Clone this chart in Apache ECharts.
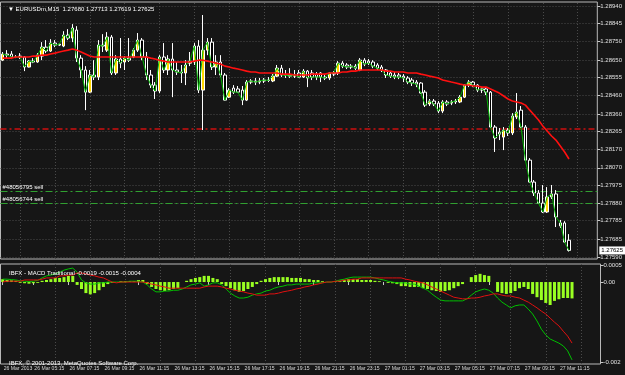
<!DOCTYPE html>
<html>
<head>
<meta charset="utf-8">
<script src="https://cdn.jsdelivr.net/npm/echarts@6/dist/echarts.min.js"></script>
<style>
  html, body { margin: 0; padding: 0; background: #161616; }
  #chart { width: 625px; height: 375px; }
</style>
</head>
<body>
<div id="chart"></div>
<script>
  // bar times, M15 (last 6 slots are the empty chart shift on the right)
  const categories = [
    '26 Mar 03:30','26 Mar 03:45','26 Mar 04:00','26 Mar 04:15','26 Mar 04:30','26 Mar 04:45','26 Mar 05:00','26 Mar 05:15','26 Mar 05:30','26 Mar 05:45',
    '26 Mar 06:00','26 Mar 06:15','26 Mar 06:30','26 Mar 06:45','26 Mar 07:00','26 Mar 07:15','26 Mar 07:30','26 Mar 07:45','26 Mar 08:00','26 Mar 08:15',
    '26 Mar 08:30','26 Mar 08:45','26 Mar 09:00','26 Mar 09:15','26 Mar 09:30','26 Mar 09:45','26 Mar 10:00','26 Mar 10:15','26 Mar 10:30','26 Mar 10:45',
    '26 Mar 11:00','26 Mar 11:15','26 Mar 11:30','26 Mar 11:45','26 Mar 12:00','26 Mar 12:15','26 Mar 12:30','26 Mar 12:45','26 Mar 13:00','26 Mar 13:15',
    '26 Mar 13:30','26 Mar 13:45','26 Mar 14:00','26 Mar 14:15','26 Mar 14:30','26 Mar 14:45','26 Mar 15:00','26 Mar 15:15','26 Mar 15:30','26 Mar 15:45',
    '26 Mar 16:00','26 Mar 16:15','26 Mar 16:30','26 Mar 16:45','26 Mar 17:00','26 Mar 17:15','26 Mar 17:30','26 Mar 17:45','26 Mar 18:00','26 Mar 18:15',
    '26 Mar 18:30','26 Mar 18:45','26 Mar 19:00','26 Mar 19:15','26 Mar 19:30','26 Mar 19:45','26 Mar 20:00','26 Mar 20:15','26 Mar 20:30','26 Mar 20:45',
    '26 Mar 21:00','26 Mar 21:15','26 Mar 21:30','26 Mar 21:45','26 Mar 22:00','26 Mar 22:15','26 Mar 22:30','26 Mar 22:45','26 Mar 23:00','26 Mar 23:15',
    '26 Mar 23:30','26 Mar 23:45','27 Mar 00:00','27 Mar 00:15','27 Mar 00:30','27 Mar 00:45','27 Mar 01:00','27 Mar 01:15','27 Mar 01:30','27 Mar 01:45',
    '27 Mar 02:00','27 Mar 02:15','27 Mar 02:30','27 Mar 02:45','27 Mar 03:00','27 Mar 03:15','27 Mar 03:30','27 Mar 03:45','27 Mar 04:00','27 Mar 04:15',
    '27 Mar 04:30','27 Mar 04:45','27 Mar 05:00','27 Mar 05:15','27 Mar 05:30','27 Mar 05:45','27 Mar 06:00','27 Mar 06:15','27 Mar 06:30','27 Mar 06:45',
    '27 Mar 07:00','27 Mar 07:15','27 Mar 07:30','27 Mar 07:45','27 Mar 08:00','27 Mar 08:15','27 Mar 08:30','27 Mar 08:45','27 Mar 09:00','27 Mar 09:15',
    '27 Mar 09:30','27 Mar 09:45','27 Mar 10:00','27 Mar 10:15','27 Mar 10:30','27 Mar 10:45','27 Mar 11:00','27 Mar 11:15','27 Mar 11:30','27 Mar 11:45',
    '27 Mar 12:00','27 Mar 12:15','27 Mar 12:30','27 Mar 12:45','27 Mar 13:00','27 Mar 13:15','27 Mar 13:30'
  ]
  const timeTickIdx = [0,7,15,23,31,39,47,55,63,71,79,87,95,103,111,119,127]
  const gridLineIdx = [4,12,20,28,36,44,52,60,68,76,84,92,100,108,116,124,132]

  // [open, close, low, high]
  const bars = [
    [1.28649,1.28682,1.28644,1.28693],[1.28682,1.28676,1.28660,1.28703],[1.28682,1.28666,1.28655,1.28698],[1.28666,1.28664,1.28660,1.28676],[1.28671,1.28666,1.28655,1.28687],
    [1.28666,1.28612,1.28590,1.28671],[1.28612,1.28644,1.28610,1.28649],[1.28644,1.28639,1.28633,1.28660],[1.28639,1.28676,1.28635,1.28687],[1.28671,1.28719,1.28649,1.28746],
    [1.28719,1.28698,1.28687,1.28757],[1.28698,1.28741,1.28693,1.28762],[1.28741,1.28730,1.28719,1.28757],[1.28730,1.28735,1.28725,1.28741],[1.28725,1.28784,1.28719,1.28805],
    [1.28784,1.28768,1.28757,1.28816],[1.28768,1.28822,1.28746,1.28843],[1.28811,1.28660,1.28639,1.28832],[1.28660,1.28596,1.28553,1.28676],[1.28596,1.28477,1.28380,1.28617],
    [1.28477,1.28569,1.28472,1.28596],[1.28569,1.28558,1.28542,1.28649],[1.28558,1.28730,1.28542,1.28757],[1.28730,1.28725,1.28693,1.28789],[1.28703,1.28773,1.28693,1.28800],
    [1.28773,1.28580,1.28569,1.28784],[1.28580,1.28655,1.28569,1.28676],[1.28655,1.28633,1.28606,1.28768],[1.28639,1.28660,1.28596,1.28671],[1.28660,1.28649,1.28639,1.28768],
    [1.28666,1.28703,1.28660,1.28714],[1.28703,1.28757,1.28693,1.28795],[1.28757,1.28666,1.28649,1.28768],[1.28666,1.28569,1.28542,1.28693],[1.28569,1.28515,1.28499,1.28596],
    [1.28515,1.28483,1.28440,1.28531],[1.28483,1.28666,1.28472,1.28676],[1.28666,1.28596,1.28580,1.28741],[1.28596,1.28655,1.28569,1.28676],[1.28655,1.28596,1.28450,1.28741],
    [1.28596,1.28585,1.28569,1.28639],[1.28585,1.28580,1.28526,1.28623],[1.28580,1.28623,1.28515,1.28649],[1.28633,1.28644,1.28617,1.28693],[1.28639,1.28725,1.28623,1.28741],
    [1.28725,1.28488,1.28472,1.28757],[1.28488,1.28703,1.28273,1.28892],[1.28703,1.28746,1.28676,1.28768],[1.28746,1.28612,1.28596,1.28768],[1.28612,1.28639,1.28569,1.28676],
    [1.28639,1.28569,1.28558,1.28676],[1.28569,1.28434,1.28432,1.28580],[1.28450,1.28488,1.28445,1.28499],[1.28499,1.28477,1.28467,1.28515],[1.28494,1.28477,1.28472,1.28510],
    [1.28488,1.28434,1.28407,1.28510],[1.28434,1.28531,1.28429,1.28542],[1.28531,1.28537,1.28520,1.28547],[1.28537,1.28531,1.28515,1.28553],[1.28531,1.28537,1.28520,1.28553],
    [1.28537,1.28542,1.28526,1.28553],[1.28542,1.28540,1.28531,1.28558],[1.28537,1.28563,1.28531,1.28574],[1.28563,1.28606,1.28558,1.28623],[1.28606,1.28569,1.28558,1.28623],
    [1.28569,1.28567,1.28553,1.28596],[1.28569,1.28563,1.28553,1.28606],[1.28563,1.28569,1.28553,1.28596],[1.28580,1.28558,1.28553,1.28596],[1.28558,1.28590,1.28553,1.28601],
    [1.28590,1.28553,1.28504,1.28596],[1.28580,1.28558,1.28542,1.28596],[1.28574,1.28558,1.28542,1.28585],[1.28580,1.28558,1.28531,1.28585],[1.28558,1.28553,1.28542,1.28569],
    [1.28553,1.28580,1.28542,1.28585],[1.28574,1.28580,1.28563,1.28590],[1.28580,1.28633,1.28569,1.28644],[1.28633,1.28617,1.28606,1.28644],[1.28623,1.28612,1.28601,1.28633],
    [1.28612,1.28617,1.28601,1.28628],[1.28617,1.28606,1.28596,1.28628],[1.28596,1.28649,1.28590,1.28660],[1.28649,1.28628,1.28617,1.28660],[1.28644,1.28633,1.28623,1.28655],
    [1.28639,1.28617,1.28606,1.28649],[1.28623,1.28606,1.28596,1.28633],[1.28612,1.28596,1.28585,1.28623],[1.28596,1.28569,1.28553,1.28601],[1.28580,1.28563,1.28553,1.28590],
    [1.28569,1.28558,1.28547,1.28585],[1.28569,1.28558,1.28547,1.28580],[1.28563,1.28553,1.28531,1.28574],[1.28553,1.28531,1.28520,1.28563],[1.28542,1.28526,1.28510,1.28553],
    [1.28531,1.28520,1.28504,1.28542],[1.28526,1.28472,1.28467,1.28531],[1.28477,1.28407,1.28397,1.28488],[1.28413,1.28429,1.28402,1.28440],[1.28429,1.28413,1.28402,1.28440],
    [1.28418,1.28375,1.28364,1.28429],[1.28375,1.28424,1.28364,1.28434],[1.28424,1.28413,1.28402,1.28434],[1.28418,1.28424,1.28407,1.28434],[1.28424,1.28429,1.28413,1.28440],
    [1.28424,1.28450,1.28418,1.28461],[1.28450,1.28515,1.28445,1.28520],[1.28515,1.28531,1.28504,1.28542],[1.28531,1.28515,1.28504,1.28537],[1.28515,1.28488,1.28477,1.28520],
    [1.28488,1.28494,1.28472,1.28504],[1.28494,1.28477,1.28461,1.28504],[1.28477,1.28289,1.28284,1.28483],[1.28289,1.28230,1.28155,1.28300],[1.28262,1.28251,1.28219,1.28284],
    [1.28235,1.28273,1.28165,1.28289],[1.28273,1.28257,1.28241,1.28284],[1.28257,1.28348,1.28246,1.28364],[1.28343,1.28370,1.28332,1.28472],[1.28380,1.28289,1.28284,1.28402],
    [1.28289,1.28111,1.28106,1.28300],[1.28111,1.27993,1.27988,1.28122],[1.27993,1.27934,1.27918,1.28004],[1.27934,1.27880,1.27875,1.27950],[1.27880,1.27832,1.27827,1.27977],
    [1.27832,1.27913,1.27827,1.27966],[1.27913,1.27929,1.27902,1.27977],[1.27929,1.27805,1.27751,1.27950],[1.27757,1.27773,1.27746,1.27789],[1.27773,1.27670,1.27665,1.27783],
    [1.27680,1.27625,1.27619,1.27713]
  ]

  // red moving average
  const slowMa = [
    1.28660,1.28660,1.28660,1.28666,1.28666,1.28666,1.28666,1.28671,1.28671,1.28676,
    1.28676,1.28682,1.28687,1.28693,1.28698,1.28703,1.28709,1.28703,1.28693,1.28682,
    1.28671,1.28666,1.28666,1.28666,1.28666,1.28666,1.28666,1.28666,1.28666,1.28666,
    1.28666,1.28666,1.28666,1.28666,1.28660,1.28655,1.28649,1.28644,1.28639,1.28639,
    1.28639,1.28639,1.28639,1.28639,1.28644,1.28649,1.28649,1.28644,1.28639,1.28633,
    1.28628,1.28617,1.28612,1.28606,1.28601,1.28596,1.28590,1.28585,1.28585,1.28580,
    1.28580,1.28580,1.28580,1.28580,1.28574,1.28574,1.28574,1.28569,1.28569,1.28569,
    1.28569,1.28574,1.28574,1.28574,1.28574,1.28580,1.28580,1.28580,1.28585,1.28585,
    1.28590,1.28590,1.28596,1.28596,1.28596,1.28596,1.28596,1.28596,1.28590,1.28590,
    1.28585,1.28585,1.28585,1.28580,1.28580,1.28580,1.28574,1.28569,1.28563,1.28558,
    1.28553,1.28542,1.28537,1.28531,1.28526,1.28520,1.28515,1.28515,1.28510,1.28510,
    1.28504,1.28504,1.28494,1.28483,1.28472,1.28456,1.28440,1.28429,1.28424,1.28418,
    1.28407,1.28380,1.28354,1.28327,1.28294,1.28268,1.28241,1.28219,1.28187,1.28155,1.28117
  ]

  // MACD panel
  const macdMain = [
    0.00007,0.00007,0.00006,0.00005,0.00003,0.00002,0.00001,0.00002,0.00004,0.0001,
    0.00015,0.00017,0.0002,0.00024,0.00029,0.00032,0.00034,0.00024,0.00005,-0.00002,
    -0.00005,-0.00005,-0.00002,-0.00002,0,0,0,0,0,0.00002,
    0.00002,0.00002,0,-0.00007,-0.00017,-0.00024,-0.00024,-0.00022,-0.00022,-0.0002,
    -0.0002,-0.00017,-0.00012,-0.00007,-0.00005,-0.00002,-0.0001,-0.00007,-0.00002,-0.00002,
    -0.00007,-0.00017,-0.00027,-0.00034,-0.00039,-0.00039,-0.00037,-0.00032,-0.00029,-0.00027,
    -0.00022,-0.0002,-0.00015,-0.00012,-0.0001,-0.00007,-0.00007,-0.00005,-0.00005,-0.00005,
    -0.00005,-0.00002,-0.00002,-0.00002,0,0,0.00002,0.00005,0.00007,0.0001,
    0.00012,0.00012,0.00012,0.00012,0.00012,0.0001,0.00007,0.00005,0.00002,0,
    -0.00002,-0.00002,-0.00002,-0.00005,-0.00005,-0.0001,-0.00015,-0.0002,-0.00029,-0.00037,
    -0.00044,-0.00046,-0.00046,-0.00046,-0.00046,-0.00046,-0.00041,-0.00032,-0.00024,-0.0002,
    -0.00017,-0.0002,-0.00027,-0.00039,-0.00049,-0.00056,-0.00063,-0.00058,-0.00056,-0.00056,
    -0.00066,-0.00078,-0.00095,-0.00115,-0.00129,-0.00139,-0.00144,-0.00149,-0.00156,-0.00168,-0.0019
  ]
  const macdSignal = [
    0,0.00002,0.00002,0.00002,0.00002,0.00005,0.00005,0.00005,0.00005,0.00007,
    0.0001,0.0001,0.0001,0.00015,0.00015,0.00017,0.00017,0.00022,0.00022,0.0002,
    0.00017,0.00015,0.00012,0.0001,0.00005,0,-0.00002,0,0,0,
    0,0,0,-0.00002,-0.00005,-0.00007,-0.0001,-0.00012,-0.00015,-0.00015,
    -0.00015,-0.00015,-0.00015,-0.00015,-0.00015,-0.00015,-0.00012,-0.0001,-0.0001,-0.0001,
    -0.00012,-0.00015,-0.00017,-0.0002,-0.00022,-0.00024,-0.00027,-0.00029,-0.00032,-0.00032,
    -0.00032,-0.00029,-0.00029,-0.00027,-0.00024,-0.00022,-0.0002,-0.00017,-0.00015,-0.00012,
    -0.0001,-0.00007,-0.00005,-0.00002,0,0,0.00002,0.00002,0.00005,0.00005,
    0.00007,0.00007,0.0001,0.0001,0.0001,0.0001,0.0001,0.0001,0.0001,0.0001,
    0.0001,0.0001,0.00007,0.00005,0.00002,0,-0.00002,-0.00007,-0.00012,-0.00017,
    -0.00022,-0.00027,-0.00032,-0.00037,-0.00039,-0.00041,-0.00041,-0.00039,-0.00039,-0.00037,
    -0.00034,-0.00032,-0.00029,-0.00029,-0.00032,-0.00034,-0.00034,-0.00037,-0.00039,-0.00044,
    -0.00049,-0.00056,-0.00063,-0.00071,-0.00078,-0.00088,-0.00098,-0.00107,-0.0012,-0.00132,-0.00149
  ]
  const macdHist = [
    0.00007,0.00005,0.00004,0.00003,-0.00002,-0.00003,-0.00004,-0.00003,-0.00002,0.00003,
    0.00005,0.00007,0.0001,0.0001,0.00012,0.00015,0.00015,-0.00007,-0.00017,-0.00027,
    -0.0003,-0.00027,-0.0002,-0.00012,-0.00005,-0.00002,0,0.00002,0.00002,0.00002,
    0.00002,0.00005,0.00005,-0.00005,-0.00012,-0.00017,-0.0002,-0.00022,-0.0002,-0.00017,
    -0.00015,0,0.00003,0.00007,0.0001,0.00012,0.00015,0.00015,0.0001,0.00007,
    -0.00005,-0.0001,-0.00015,-0.0002,-0.00024,-0.00022,-0.00017,-0.00012,-0.00005,0.00003,
    0.00007,0.0001,0.00012,0.00012,0.00012,0.00012,0.0001,0.0001,0.0001,0.00007,
    0.00007,0.00005,0.00005,0.00002,0,0,0.00002,0.00003,0.00005,0.00007,
    0.00007,0.00007,0.00005,0.00005,0.00005,0.00003,0.00002,0,-0.00002,-0.00003,
    -0.00005,-0.0001,-0.0001,-0.00012,-0.00012,-0.00012,-0.00015,-0.00017,-0.0002,-0.00022,
    -0.00024,-0.00022,-0.0002,-0.00015,-0.0001,-0.00005,0,0.00012,0.00017,0.0002,
    0.00017,0.00015,0,-0.00024,-0.00027,-0.00029,-0.00027,-0.00022,-0.00015,-0.00012,
    -0.00017,-0.00029,-0.00037,-0.00044,-0.00051,-0.00056,-0.00046,-0.00042,-0.00039,-0.00039,-0.0004
  ]

  const priceTicks = [1.28940,1.28845,1.28750,1.28650,1.28555,1.28460,1.28360,1.28265,1.28170,1.28070,1.27975,1.27880,1.27785,1.27685,1.27590]
  const macdTicks = [0.0004, 0, -0.00195]
  const macdTickText = ['0.0005', '0.00', '-0.002']
  const levelLine = 1.28279
  const orderLines = [1.27942, 1.27879]
  const orderNames = ['#48056795 sell', '#48056744 sell']
  const lastPrice = 1.27625

  // green fast line follows the closes
  const fastMa = bars.map(b => b[1])

  const font = 'Liberation Sans'
  const chart = echarts.init(document.getElementById('chart'))

  const gridDots = {color: '#4a4a4a', type: [1, 2], width: 1}

  chart.setOption({
    backgroundColor: '#161616',
    animation: false,
    textStyle: {fontFamily: font},
    title: [
      {left: 3, top: 1, text: '▼ EURUSDm,M15  1.27680 1.27713 1.27619 1.27625',
        textStyle: {color: '#ffffff', fontSize: 6, fontWeight: 'normal', fontFamily: font}},
      {left: 4, top: 265, text: 'IBFX - MACD Traditional -0.0019 -0.0015 -0.0004',
        textStyle: {color: '#ffffff', fontSize: 6, fontWeight: 'normal', fontFamily: font}},
      {left: 4, top: 355, text: 'IBFX, © 2001-2013, MetaQuotes Software Corp.',
        textStyle: {color: '#ffffff', fontSize: 6, fontWeight: 'normal', fontFamily: font}}
    ],
    grid: [
      {left: 0.5, right: 24.5, top: 2, height: 257, show: true, borderColor: '#b8b8b8', borderWidth: 1},
      {left: 0.5, right: 24.5, top: 264, height: 100, show: true, borderColor: '#b8b8b8', borderWidth: 1}
    ],
    xAxis: [
      {type: 'category', gridIndex: 0, data: categories, boundaryGap: true,
        axisLine: {show: false}, axisTick: {show: false}, axisLabel: {show: false}, splitLine: {show: false}},
      {type: 'category', gridIndex: 1, data: categories, boundaryGap: true,
        axisLine: {show: false},
        axisTick: {show: true, length: 3, alignWithLabel: true, interval: i => timeTickIdx.includes(i), lineStyle: {color: '#c8c8c8'}},
        axisLabel: {show: true, color: '#d8d8d8', fontSize: 5.1, margin: 2, align: 'left', padding: [0, 0, 0, 1],
          interval: i => timeTickIdx.includes(i),
          formatter: (v, i) => i === 0 ? '26 Mar 2013' : v},
        splitLine: {show: false}}
    ],
    yAxis: [
      {type: 'value', gridIndex: 0, position: 'right', min: 1.27579, max: 1.28962,
        splitLine: {show: false}, axisLine: {show: false},
        axisTick: {show: true, length: 3, customValues: priceTicks, lineStyle: {color: '#c8c8c8'}},
        axisLabel: {color: '#e0e0e0', fontSize: 6, margin: 3, customValues: priceTicks, formatter: v => v.toFixed(5)}},
      {type: 'value', gridIndex: 1, position: 'right', min: -0.002, max: 0.00044,
        splitLine: {show: false}, axisLine: {show: false},
        axisTick: {show: true, length: 3, customValues: macdTicks, lineStyle: {color: '#c8c8c8'}},
        axisLabel: {color: '#e0e0e0', fontSize: 6, margin: 3, customValues: macdTicks,
          formatter: v => macdTickText[macdTicks.indexOf(v)] || ''}}
    ],
    series: [
      {
        name: 'EURUSDm', type: 'candlestick', xAxisIndex: 0, yAxisIndex: 0, data: bars, barWidth: 3, z: 3,
        itemStyle: {color: '#ffd700', color0: '#000000', borderColor: '#ffffff', borderColor0: '#ffffff', borderWidth: 1},
        markLine: {silent: true, symbol: 'none', animation: false, z: 2, precision: 5,
          data: [
            {yAxis: levelLine, lineStyle: {color: '#a01010', width: 2, type: [6, 3, 2, 3]}, label: {show: false}},
            {yAxis: orderLines[0], lineStyle: {color: '#30a030', width: 1, type: [7, 3, 2, 3]},
              label: {show: true, position: 'insideStartTop', formatter: orderNames[0], color: '#ffffff', fontSize: 6, distance: [2, 1]}},
            {yAxis: orderLines[1], lineStyle: {color: '#30a030', width: 1, type: [7, 3, 2, 3]},
              label: {show: true, position: 'insideStartTop', formatter: orderNames[1], color: '#ffffff', fontSize: 6, distance: [2, 1]}},
            {yAxis: lastPrice, lineStyle: {color: 'rgba(0,0,0,0)', width: 1},
              label: {show: true, position: 'end', formatter: lastPrice.toFixed(5), color: '#000000', backgroundColor: '#ffffff',
                fontSize: 6, padding: [1, 2], distance: 2}}
          ]}
      },
      {
        name: 'fast', type: 'line', xAxisIndex: 0, yAxisIndex: 0, data: fastMa, showSymbol: false, z: 4,
        lineStyle: {color: '#00b400', width: 1}
      },
      {
        name: 'slow', type: 'line', xAxisIndex: 0, yAxisIndex: 0, data: slowMa, showSymbol: false, z: 4,
        lineStyle: {color: '#ff1010', width: 1.6},
        markLine: {silent: true, symbol: 'none', animation: false, z: 1, precision: 5, label: {show: false}, lineStyle: gridDots,
          data: priceTicks.map(p => ({yAxis: p})).concat(gridLineIdx.map(i => ({xAxis: i})))}
      },
      {
        name: 'hist', type: 'bar', xAxisIndex: 1, yAxisIndex: 1, data: macdHist, barWidth: 3, z: 3,
        itemStyle: {color: '#99ff22'},
        markLine: {silent: true, symbol: 'none', animation: false, z: 1, label: {show: false}, lineStyle: gridDots,
          data: gridLineIdx.map(i => ({xAxis: i}))}
      },
      {
        name: 'macd', type: 'line', xAxisIndex: 1, yAxisIndex: 1, data: macdMain, showSymbol: false, z: 4,
        lineStyle: {color: '#00c000', width: 1}
      },
      {
        name: 'signal', type: 'line', xAxisIndex: 1, yAxisIndex: 1, data: macdSignal, showSymbol: false, z: 4,
        lineStyle: {color: '#e01010', width: 1}
      }
    ]
  })
</script>
</body>
</html>
